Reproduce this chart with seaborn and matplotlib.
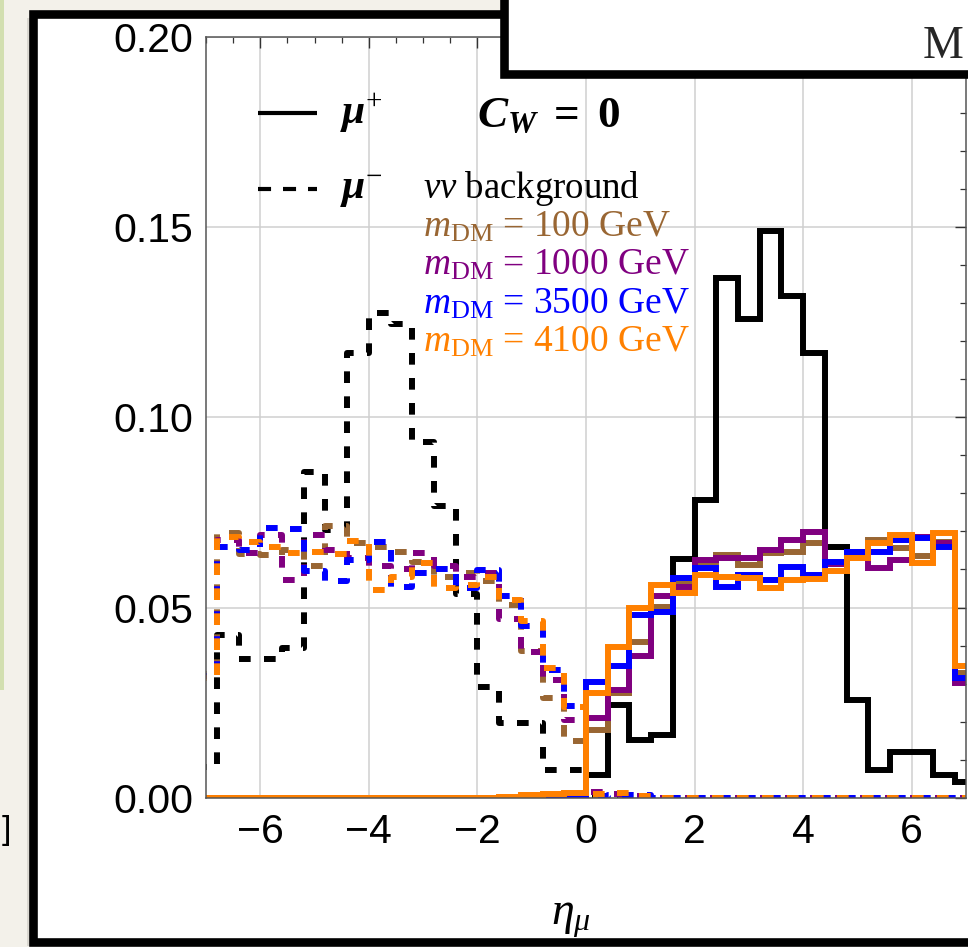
import matplotlib
matplotlib.use("Agg")
import matplotlib.pyplot as plt
from matplotlib.patches import Rectangle
from matplotlib.ticker import MultipleLocator, FormatStrFormatter
import numpy as np
import pandas as pd
import seaborn as sns

# ---------------- data ----------------
bin_edges = [-7.2, -6.8, -6.4, -6.0, -5.6, -5.2, -4.8, -4.4, -4.0, -3.6, -3.2, -2.8,
             -2.4, -2.0, -1.6, -1.2, -0.8, -0.4, 0.0, 0.4, 0.8, 1.2, 1.6, 2.0,
             2.4, 2.8, 3.2, 3.6, 4.0, 4.4, 4.8, 5.2, 5.6, 6.0, 6.4, 6.8, 7.2]
eta_centers = [-7.0, -6.6, -6.2, -5.8, -5.4, -5.0, -4.6, -4.2, -3.8, -3.4, -3.0, -2.6,
               -2.2, -1.8, -1.4, -1.0, -0.6, -0.2, 0.2, 0.6, 1.0, 1.4, 1.8, 2.2,
               2.6, 3.0, 3.4, 3.8, 4.2, 4.6, 5.0, 5.4, 5.8, 6.2, 6.6, 7.0]

# mu+ (solid)
bkg_plus = [0, 0, 0, 0, 0, 0, 0, 0, 0, 0, 0, 0,
            0, 0, 0, 0, 0, 0, 0.0060, 0.0244, 0.0152, 0.0165, 0.0628, 0.0783,
            0.1367, 0.1259, 0.1490, 0.1319, 0.1169, 0.0660, 0.0257, 0.0073, 0.0120, 0.0120, 0.0060, 0.0041]
dm100_plus = [0, 0, 0, 0, 0, 0, 0, 0, 0, 0, 0, 0,
              0, 0, 0, 0.0003, 0.0004, 0.0005, 0.0178, 0.0275, 0.0410, 0.0502, 0.0567, 0.0620,
              0.0638, 0.0612, 0.0643, 0.0647, 0.0670, 0.0617, 0.0640, 0.0678, 0.0657, 0.0636, 0.0673, 0.0328]
dm1000_plus = [0, 0, 0, 0, 0, 0, 0, 0, 0, 0, 0, 0,
               0, 0, 0, 0.0003, 0.0004, 0.0005, 0.0210, 0.0283, 0.0373, 0.0529, 0.0555, 0.0625,
               0.0630, 0.0630, 0.0651, 0.0678, 0.0698, 0.0615, 0.0640, 0.0604, 0.0625, 0.0686, 0.0670, 0.0302]
dm3500_plus = [0, 0, 0, 0, 0, 0, 0, 0, 0, 0, 0, 0,
               0, 0, 0, 0.0003, 0.0005, 0.0006, 0.0305, 0.0345, 0.0480, 0.0488, 0.0578, 0.0604,
               0.0555, 0.0586, 0.0573, 0.0607, 0.0585, 0.0620, 0.0647, 0.0647, 0.0678, 0.0683, 0.0660, 0.0315]
dm4100_plus = [0, 0, 0, 0, 0, 0, 0, 0, 0, 0, 0, 0,
               0, 0, 0.0003, 0.0006, 0.0010, 0.0012, 0.0275, 0.0397, 0.0499, 0.0560, 0.0538, 0.0586,
               0.0581, 0.0578, 0.0552, 0.0573, 0.0575, 0.0597, 0.0630, 0.0670, 0.0690, 0.0617, 0.0696, 0.0345]

# mu- (dashed)
bkg_minus = [0.0080, 0.0428, 0.0365, 0.0365, 0.0394, 0.0857, 0.0705, 0.1170, 0.1274, 0.1245, 0.0936, 0.0767,
             0.0536, 0.0292, 0.0196, 0.0196, 0.0073, 0.0073, 0, 0, 0, 0, 0, 0,
             0, 0, 0, 0, 0, 0, 0, 0, 0, 0, 0, 0]
dm100_minus = [0.0325, 0.0695, 0.0640, 0.0638, 0.0650, 0.0608, 0.0715, 0.0670, 0.0660, 0.0647, 0.0620, 0.0581,
               0.0590, 0.0570, 0.0507, 0.0385, 0.0262, 0.0148, 0.0005, 0.0004, 0.0003, 0, 0, 0,
               0, 0, 0, 0, 0, 0, 0, 0, 0, 0, 0, 0]
dm1000_minus = [0.0320, 0.0678, 0.0643, 0.0690, 0.0573, 0.0690, 0.0650, 0.0630, 0.0608, 0.0602, 0.0643, 0.0608,
                0.0580, 0.0590, 0.0469, 0.0382, 0.0310, 0.0204, 0.0015, 0.0010, 0.0005, 0, 0, 0,
                0, 0, 0, 0, 0, 0, 0, 0, 0, 0, 0, 0]
dm3500_minus = [0.0320, 0.0660, 0.0650, 0.0709, 0.0707, 0.0595, 0.0570, 0.0625, 0.0673, 0.0555, 0.0590, 0.0602,
                0.0552, 0.0598, 0.0529, 0.0452, 0.0337, 0.0240, 0.0005, 0.0008, 0.0006, 0, 0, 0,
                0, 0, 0, 0, 0, 0, 0, 0, 0, 0, 0, 0]
dm4100_minus = [0.0316, 0.0686, 0.0672, 0.0660, 0.0643, 0.0645, 0.0640, 0.0675, 0.0546, 0.0581, 0.0617, 0.0551,
                0.0560, 0.0581, 0.0520, 0.0464, 0.0342, 0.0238, 0.0010, 0.0012, 0.0004, 0, 0, 0,
                0, 0, 0, 0, 0, 0, 0, 0, 0, 0, 0, 0]

sample_names = ["bkg", "100", "1000", "3500", "4100"]
sample_colors = ["black", "#996633", "#800080", "#0000ff", "#ff8000"]
dm_labels = ["100", "1000", "3500", "4100"]

plus_series = [bkg_plus, dm100_plus, dm1000_plus, dm3500_plus, dm4100_plus]
minus_series = [bkg_minus, dm100_minus, dm1000_minus, dm3500_minus, dm4100_minus]

rows = []
for name, vp, vm in zip(sample_names, plus_series, minus_series):
    for e, a, b in zip(eta_centers, vp, vm):
        rows.append({"eta": e, "w": a, "sample": name, "charge": "+"})
        rows.append({"eta": e, "w": b, "sample": name, "charge": "-"})
df = pd.DataFrame(rows)

# ---------------- style ----------------
sns.set_theme(style="white")
plt.rcParams["font.family"] = ["Liberation Sans", "DejaVu Sans"]
plt.rcParams["mathtext.fontset"] = "custom"
plt.rcParams["mathtext.rm"] = "Liberation Serif"
plt.rcParams["mathtext.it"] = "Liberation Serif:italic"
plt.rcParams["mathtext.bf"] = "Liberation Serif:italic:bold"
plt.rcParams["mathtext.sf"] = "Liberation Serif:bold"
plt.rcParams["lines.scale_dashes"] = False
plt.rcParams["axes.unicode_minus"] = True

W, H = 968, 947
fig = plt.figure(figsize=(W / 100, H / 100), dpi=100, facecolor="#f3f1ea")

def frect(x0, y0, x1, y1, **kw):
    r = Rectangle((x0 / W, 1 - y1 / H), (x1 - x0) / W, (y1 - y0) / H,
                  transform=fig.transFigure, **kw)
    fig.add_artist(r)
    return r

# background decorations
frect(0, -10, 3.5, 690, facecolor="#d2dfb0", edgecolor="none", zorder=-8)
frect(27, 18, 1100, 946, facecolor="#d9d7d0", edgecolor="none", zorder=-7)
frect(33, 14, 1100, 942, facecolor="white", edgecolor="black", linewidth=6.2, zorder=-6)

ax_l, ax_r, ax_t, ax_b = 206, 966, 37, 797.7
ax = fig.add_axes([ax_l / W, 1 - ax_b / H, (ax_r - ax_l) / W, (ax_b - ax_t) / H])
ax.set_facecolor("white")

# ---------------- histograms ----------------
dash_pat = (8.4, 9.6)
for charge, ls in (("-", "dashed"), ("+", "solid")):
    for name, col in zip(sample_names, sample_colors):
        sub = df[(df["sample"] == name) & (df["charge"] == charge)]
        kw = dict(color=col, linewidth=4.3, solid_joinstyle="miter",
                  solid_capstyle="butt", dash_capstyle="butt")
        if ls == "dashed":
            kw["dashes"] = dash_pat
        sns.histplot(x=sub["eta"].to_numpy(), weights=sub["w"].to_numpy(), bins=bin_edges,
                     element="step", fill=False, ax=ax, **kw)

ax.set_xlim(-7, 7)
ax.set_ylim(0, 0.2)
ax.set_xlabel("")
ax.set_ylabel("")

# grid
ax.grid(True, which="major", color="#cfcfcf", linewidth=1.1)
ax.set_axisbelow(True)

# ticks
ax.xaxis.set_major_locator(MultipleLocator(2))
ax.xaxis.set_minor_locator(MultipleLocator(0.5))
ax.yaxis.set_major_locator(MultipleLocator(0.05))
ax.yaxis.set_minor_locator(MultipleLocator(0.01))
ax.yaxis.set_major_formatter(FormatStrFormatter("%.2f"))
ax.tick_params(which="both", direction="in", top=True, right=True, color="#333333")
ax.tick_params(which="major", length=8, width=1.0, labelsize=29.5, pad=9,
               labelcolor="black")
ax.tick_params(axis="x", which="major", pad=11)
ax.tick_params(which="minor", length=4.5, width=0.9)
for s in ax.spines.values():
    s.set_color("#555555")
    s.set_linewidth(1.1)

# ---------------- legend / labels ----------------
def ypx(py):
    return (ax_b - py) / (ax_b - ax_t)

def xpx(px):
    return (px - ax_l) / (ax_r - ax_l)

ax.plot([xpx(258), xpx(317)], [ypx(113.3), ypx(113.3)], transform=ax.transAxes,
        color="black", linewidth=3.0, solid_capstyle="butt", clip_on=False)
ax.plot([xpx(258), xpx(317)], [ypx(188.5), ypx(188.5)], transform=ax.transAxes,
        color="black", linewidth=3.0, dashes=(9.4, 8.6), dash_capstyle="butt", clip_on=False)
ax.text(xpx(340), ypx(124), r"$\mathbf{\mu}^{+}$", transform=ax.transAxes,
        fontsize=30, ha="left", va="baseline", color="black")
ax.text(xpx(340), ypx(199), r"$\mathbf{\mu}^{-}$", transform=ax.transAxes,
        fontsize=30, ha="left", va="baseline", color="black")
ax.text(xpx(477), ypx(127), r"$\mathbf{C}_{\mathbf{W}}\ \mathsf{=}\ \mathsf{0}$",
        transform=ax.transAxes, fontsize=32.5, ha="left", va="baseline", color="black")

serif = ["Liberation Serif", "DejaVu Serif"]
ax.text(xpx(423), ypx(198.3), r"$\nu\nu$ background", transform=ax.transAxes,
        fontsize=26.5, ha="left", va="baseline", color="black", family=serif)
for i, (lab, col) in enumerate(zip(dm_labels, sample_colors[1:])):
    ax.text(xpx(423), ypx(236.7 + 38.3 * i), r"$m_{\mathrm{DM}}$ = " + lab + " GeV",
            transform=ax.transAxes, fontsize=27, ha="left", va="baseline",
            color=col, family=serif)

ax.text(xpx(571), ypx(918), r"$\eta_{\mu}$", transform=ax.transAxes,
        fontsize=33, ha="center", va="center", color="black", clip_on=False)

# top-right overlapping box and edge fragments
frect(504, -30, 1100, 74, facecolor="white", edgecolor="black", linewidth=6.2, zorder=10)
fig.text(964 / W, 1 - 58 / H, "M", fontsize=33, ha="right", va="baseline",
         family=serif, zorder=11)
fig.text(11 / W, 1 - 831 / H, "]", fontsize=24, ha="right", va="center",
         color="black", zorder=11)

fig.savefig("out.png", dpi=100, facecolor=fig.get_facecolor())
